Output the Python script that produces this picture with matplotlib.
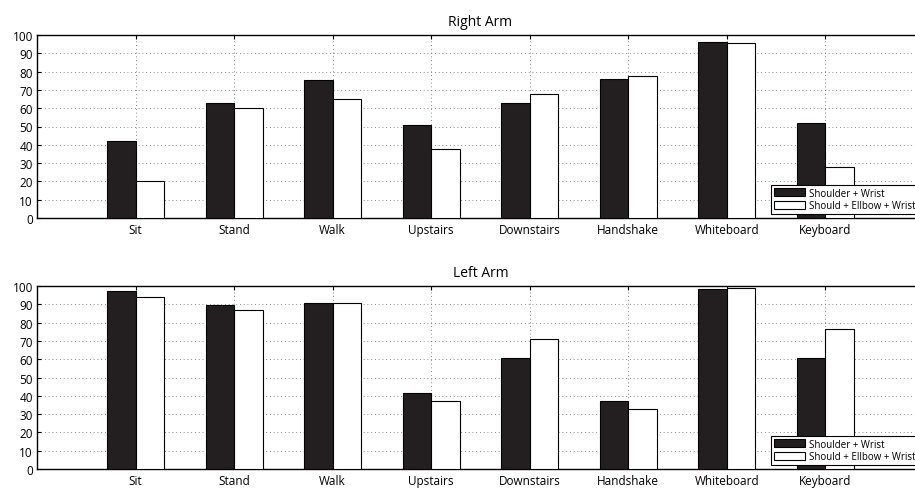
import numpy as np
import matplotlib.pyplot as plt

# --- Data ---
activities = ["Sit", "Stand", "Walk", "Upstairs", "Downstairs",
              "Handshake", "Whiteboard", "Keyboard"]
right_sw = [42, 63, 75.5, 51, 63, 76, 96, 52]
right_sew = [20, 60, 65.3, 37.6, 67.6, 77.8, 95.5, 28]
left_sw = [97.5, 89.8, 90.5, 41.7, 60.4, 37.1, 98.5, 60.4]
left_sew = [94.2, 86.7, 90.7, 37.3, 71.3, 32.9, 98.9, 76.3]
series_names = ["Shoulder + Wrist", "Should + Ellbow + Wrist"]

plt.rcParams['font.family'] = ['Open Sans', 'DejaVu Sans']

fig = plt.figure(figsize=(9.15, 4.89), dpi=100)
W, H = 915.0, 489.0
# axes boxes in pixels: left, top, right, bottom
boxes = [(37, 36, 924, 219), (37, 287, 924, 470)]
titles = ["Right Arm", "Left Arm"]
data = [(right_sw, right_sew), (left_sw, left_sew)]

x = np.arange(1, len(activities) + 1)
w = 0.29

for (l, t, r, b), title, (sw, sew) in zip(boxes, titles, data):
    ax = fig.add_axes([l / W, 1 - b / H, (r - l) / W, (b - t) / H])
    ax.bar(x - w / 2, sw, w, color="#231f20", edgecolor="black",
           linewidth=0.8, label=series_names[0], zorder=3)
    ax.bar(x + w / 2, sew, w, color="white", edgecolor="black",
           linewidth=0.8, label=series_names[1], zorder=3)
    ax.set_xlim(0, 9)
    ax.set_ylim(0, 100)
    ax.set_yticks(range(0, 101, 10))
    ax.set_xticks(x)
    ax.set_xticklabels(activities)
    ax.tick_params(axis="both", labelsize=8.5, length=3, direction="in",
                   top=True, right=True, pad=3)
    ax.tick_params(axis="x", pad=3.5)
    ax.grid(True, linestyle=(0, (1, 3.5)), color="#666666", linewidth=0.6,
            zorder=0)
    ax.set_axisbelow(True)
    for s in ax.spines.values():
        s.set_linewidth(1.0)
    ax.set_title(title, fontsize=10, pad=7)
    leg = ax.legend(loc="lower right", bbox_to_anchor=(0.9975, 0.005),
                    fontsize=7, frameon=True, fancybox=False,
                    borderpad=0.3, labelspacing=0.15, handlelength=3.2,
                    handleheight=0.9, handletextpad=0.4, borderaxespad=0.3)
    leg.get_frame().set_edgecolor("black")
    leg.get_frame().set_linewidth(0.8)
    leg.get_frame().set_alpha(1)

fig.savefig("out.png", dpi=100)
